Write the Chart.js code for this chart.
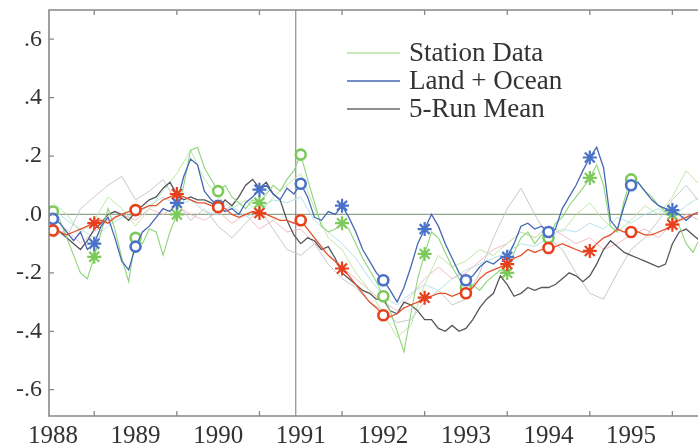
<!DOCTYPE html>
<html>
<head>
<meta charset="utf-8">
<script src="https://cdn.jsdelivr.net/npm/chart.js@4"></script>
<style>
  html, body { margin: 0; padding: 0; background: #fff; overflow: hidden; }
  #wrap { width: 698px; height: 448px; }
</style>
</head>
<body>
<div id="wrap"><canvas id="chart" width="698" height="448"></canvas></div>
<script>
const START_YEAR = 1988;

// monthly values, Jan 1988 onwards
const stationData = [
  0.01, -0.02, -0.08, -0.14, -0.20, -0.22, -0.145, -0.06, 0.02, -0.05, -0.15, -0.23,
  -0.08, -0.10, -0.05, -0.06, -0.14, -0.06, 0.00, 0.10, 0.22, 0.23, 0.16, 0.12,
  0.08, 0.10, 0.06, 0.04, 0.02, 0.05, 0.04, 0.07, 0.10, 0.08, 0.12, 0.15,
  0.205, 0.12, 0.04, -0.04, -0.06, -0.05, -0.03, -0.05, -0.10, -0.15, -0.19, -0.23,
  -0.28, -0.33, -0.40, -0.47, -0.34, -0.22, -0.135, -0.06, -0.08, -0.13, -0.18, -0.22,
  -0.25, -0.24, -0.26, -0.23, -0.21, -0.19, -0.20, -0.13, -0.08, -0.06, -0.10, -0.07,
  -0.08, -0.03, -0.01, 0.03, 0.06, 0.09, 0.125, 0.17, 0.10, -0.04, -0.06, 0.05,
  0.12, 0.11, 0.08, 0.06, 0.03, 0.01, 0.00, -0.04, -0.10, -0.13, -0.08
];
const landOcean = [
  -0.015, -0.03, -0.06, -0.09, -0.06, -0.12, -0.10, -0.04, -0.01, -0.08, -0.16, -0.19,
  -0.11, -0.06, -0.04, -0.01, 0.02, 0.01, 0.04, 0.13, 0.19, 0.17, 0.08, 0.05,
  0.03, 0.01, 0.02, 0.00, 0.04, 0.06, 0.085, 0.10, 0.07, 0.05, 0.09, 0.07,
  0.105, 0.06, -0.01, -0.02, 0.01, 0.00, 0.03, -0.01, -0.06, -0.12, -0.16, -0.20,
  -0.225, -0.26, -0.30, -0.25, -0.18, -0.10, -0.05, 0.00, -0.04, -0.10, -0.15, -0.20,
  -0.225, -0.21, -0.18, -0.16, -0.17, -0.15, -0.145, -0.10, -0.04, -0.03, -0.05, -0.04,
  -0.06, -0.05, 0.02, 0.06, 0.10, 0.15, 0.195, 0.23, 0.16, -0.02, -0.05, 0.03,
  0.10, 0.11, 0.08, 0.05, 0.03, 0.02, 0.015, 0.00, -0.02, 0.00, 0.01
];
const runMean = [
  -0.04, -0.06, -0.08, -0.10, -0.12, -0.09, -0.05, -0.03, 0.00, 0.01, 0.00, -0.02,
  0.01, 0.03, 0.05, 0.06, 0.09, 0.11, 0.07, 0.05, 0.06, 0.05, 0.05, 0.04,
  0.02, 0.05, 0.03, 0.06, 0.10, 0.12, 0.09, 0.11, 0.07, 0.05, -0.02, -0.07,
  -0.10, -0.08, -0.09, -0.12, -0.11, -0.15, -0.20, -0.22, -0.24, -0.26, -0.27, -0.29,
  -0.29, -0.33, -0.34, -0.30, -0.31, -0.33, -0.36, -0.36, -0.39, -0.40, -0.38, -0.40,
  -0.39, -0.36, -0.32, -0.29, -0.27, -0.21, -0.24, -0.28, -0.27, -0.25, -0.26, -0.25,
  -0.25, -0.24, -0.22, -0.20, -0.21, -0.23, -0.21, -0.17, -0.12, -0.09, -0.11, -0.13,
  -0.14, -0.15, -0.16, -0.17, -0.18, -0.17, -0.10, -0.06, -0.05, -0.07, -0.09
];
const modelMean = [
  -0.055, -0.06, -0.07, -0.06, -0.05, -0.04, -0.03, -0.02, -0.03, -0.01, 0.00, 0.01,
  0.015, 0.02, 0.03, 0.03, 0.05, 0.06, 0.07, 0.06, 0.05, 0.04, 0.04, 0.03,
  0.025, 0.02, 0.00, -0.01, 0.00, 0.01, 0.005, 0.00, -0.01, -0.02, -0.02, -0.03,
  -0.02, -0.05, -0.08, -0.11, -0.14, -0.16, -0.185, -0.21, -0.24, -0.27, -0.30, -0.32,
  -0.345, -0.35, -0.34, -0.32, -0.31, -0.30, -0.285, -0.28, -0.27, -0.27, -0.28, -0.27,
  -0.27, -0.25, -0.22, -0.20, -0.19, -0.18, -0.17, -0.15, -0.14, -0.12, -0.13, -0.12,
  -0.115, -0.11, -0.10, -0.11, -0.12, -0.13, -0.125, -0.10, -0.08, -0.07, -0.05, -0.06,
  -0.06, -0.06, -0.07, -0.07, -0.06, -0.05, -0.035, -0.02, -0.01, 0.00, 0.01
];

// individual runs, every second month
const runGray = [
  -0.03, -0.08, 0.02, 0.06, 0.10, 0.13, 0.05, 0.08, 0.12, 0.04, -0.02, 0.02,
  -0.04, -0.08, -0.03, 0.02, -0.05, -0.12, -0.14, -0.10, -0.17, -0.22, -0.25, -0.30,
  -0.33, -0.37, -0.36, -0.30, -0.26, -0.31, -0.29, -0.20, -0.08, 0.02, 0.09, 0.00,
  -0.08, -0.12, -0.20, -0.27, -0.29, -0.20, -0.12, -0.08, -0.02, 0.05, 0.10, 0.04
];
const runGreen = [
  0.04, 0.00, -0.06, -0.02, 0.06, 0.02, -0.04, 0.02, 0.08, 0.14, 0.22, 0.12,
  0.06, 0.02, 0.05, 0.00, 0.06, 0.10, 0.14, 0.02, -0.08, -0.12, -0.20, -0.26,
  -0.34, -0.42, -0.38, -0.24, -0.14, -0.18, -0.16, -0.12, -0.14, -0.10, -0.06, -0.08,
  -0.04, -0.06, 0.00, 0.04, -0.02, -0.06, -0.02, 0.03, 0.00, 0.06, 0.15, 0.10
];
const runPink = [
  -0.08, -0.05, -0.10, -0.06, -0.02, 0.00, -0.02, 0.02, 0.00, 0.03, 0.00, -0.02,
  0.01, -0.03, 0.00, -0.05, -0.02, -0.06, -0.05, -0.10, -0.14, -0.18, -0.22, -0.26,
  -0.30, -0.33, -0.28, -0.22, -0.18, -0.22, -0.20, -0.16, -0.12, -0.10, -0.06, -0.08,
  -0.04, -0.07, -0.10, -0.08, -0.12, -0.10, -0.07, -0.05, -0.08, -0.03, 0.00, -0.02
];
const runCyan = [
  0.02, -0.02, -0.05, -0.08, -0.04, -0.01, 0.00, 0.03, 0.06, 0.03, 0.05, 0.01,
  0.00, 0.03, -0.01, 0.02, 0.05, 0.04, 0.06, -0.02, -0.06, -0.10, -0.15, -0.22,
  -0.28, -0.31, -0.27, -0.24, -0.26, -0.22, -0.19, -0.17, -0.15, -0.13, -0.10, -0.11,
  -0.08, -0.05, -0.06, -0.03, -0.05, -0.01, -0.03, 0.00, 0.02, -0.01, 0.03, 0.06
];

const legendLabels = ['Station Data', 'Land + Ocean', '5-Run Mean'];
const legendColors = ['#8fd47a', '#4468b5', '#6a6a72'];
const yTickValues = [-0.6, -0.4, -0.2, 0, 0.2, 0.4, 0.6];
const yTickLabels = ['-.6', '-.4', '-.2', '.0', '.2', '.4', '.6'];
const xYearLabels = ['1988', '1989', '1990', '1991', '1992', '1993', '1994', '1995'];
const markerYear = 1990.94;

function toPoints(values, monthStep) {
  return values.map((v, i) => ({ x: START_YEAR + i * monthStep / 12, y: v }));
}

// circles on whole years, asterisks on half years
function markerRadius(ctx) {
  const i = ctx.dataIndex;
  if (i % 6 !== 0) return 0;
  return i % 12 === 0 ? 5 : 7;
}
function markerStyle(ctx) {
  return ctx.dataIndex % 12 === 0 ? 'circle' : 'star';
}

function markedLine(label, values, lineColor, markColor, width, order) {
  return {
    label: label,
    data: toPoints(values, 1),
    borderColor: lineColor,
    borderWidth: width,
    pointRadius: markerRadius,
    pointStyle: markerStyle,
    pointBorderColor: markColor,
    pointBackgroundColor: '#fff',
    pointBorderWidth: ctx => (ctx.dataIndex % 12 === 0 ? 2.6 : 2.2),
    tension: 0,
    order: order
  };
}

function faintLine(values, color) {
  return {
    data: toPoints(values, 2),
    borderColor: color,
    borderWidth: 1,
    pointRadius: 0,
    tension: 0,
    order: 10
  };
}

const frameAndLegend = {
  id: 'frameAndLegend',
  beforeDatasetsDraw(chart) {
    const { ctx, chartArea: a, scales: { x, y } } = chart;
    ctx.save();
    // zero line
    const y0 = y.getPixelForValue(0);
    ctx.strokeStyle = '#8fa58c';
    ctx.lineWidth = 1.3;
    ctx.beginPath();
    ctx.moveTo(a.left, y0);
    ctx.lineTo(a.right, y0);
    ctx.stroke();
    // vertical marker line
    const xe = x.getPixelForValue(markerYear);
    ctx.strokeStyle = '#777';
    ctx.lineWidth = 1;
    ctx.beginPath();
    ctx.moveTo(xe, a.top);
    ctx.lineTo(xe, a.bottom);
    ctx.stroke();
    ctx.restore();
  },
  afterDatasetsDraw(chart) {
    const { ctx, chartArea: a, scales: { x, y } } = chart;
    ctx.save();
    // frame: top, left, bottom (right side runs off the picture)
    ctx.strokeStyle = '#888';
    ctx.lineWidth = 1.6;
    ctx.beginPath();
    ctx.moveTo(a.right, a.top);
    ctx.lineTo(a.left, a.top);
    ctx.lineTo(a.left, a.bottom);
    ctx.lineTo(a.right, a.bottom);
    ctx.stroke();
    // inward tick marks
    ctx.lineWidth = 1.3;
    ctx.beginPath();
    x.ticks.forEach(t => {
      if (Number.isInteger(t.value)) return;
      const px = x.getPixelForValue(t.value);
      ctx.moveTo(px, a.top);
      ctx.lineTo(px, a.top + 5);
      ctx.moveTo(px, a.bottom);
      ctx.lineTo(px, a.bottom - 5);
    });
    yTickValues.forEach(v => {
      const py = y.getPixelForValue(v);
      ctx.moveTo(a.left, py);
      ctx.lineTo(a.left + 5, py);
    });
    ctx.stroke();
    // legend
    ctx.font = '27px "Liberation Serif"';
    ctx.textBaseline = 'middle';
    legendLabels.forEach((lab, i) => {
      const ly = a.top + 43 + i * 28;
      ctx.strokeStyle = legendColors[i];
      ctx.lineWidth = i === 0 ? 1.2 : 1.6;
      ctx.beginPath();
      ctx.moveTo(347, ly);
      ctx.lineTo(400, ly);
      ctx.stroke();
      ctx.fillStyle = '#333';
      ctx.fillText(lab, 409, ly + 1);
    });
    ctx.restore();
  }
};

const config = {
  type: 'line',
  data: {
    datasets: [
      markedLine('Model', modelMean, '#e4522c', '#e8401c', 1.3, 1),
      markedLine('Land + Ocean', landOcean, '#4468b5', '#4a72c8', 1.3, 2),
      markedLine('Station Data', stationData, '#8fd47a', '#7cc95c', 1.1, 3),
      { label: '5-Run Mean', data: toPoints(runMean, 1), borderColor: '#55555d', borderWidth: 1.3, pointRadius: 0, tension: 0, order: 4 },
      faintLine(runGray, '#c8c8c8'),
      faintLine(runGreen, '#bfe8a8'),
      faintLine(runPink, '#f2bcc4'),
      faintLine(runCyan, '#b4e2ec')
    ]
  },
  options: {
    responsive: false,
    animation: false,
    layout: { autoPadding: false, padding: { top: 10, right: 0, left: 0, bottom: 0 } },
    plugins: {
      legend: { display: false },
      tooltip: { enabled: false }
    },
    scales: {
      x: {
        type: 'linear',
        min: 1987.952,
        max: 1995.81,
        grid: { display: false, drawTicks: false },
        border: { display: false },
        afterBuildTicks: scale => {
          const t = [];
          for (let i = 0; i < xYearLabels.length; i++) {
            t.push({ value: START_YEAR + i });
            t.push({ value: START_YEAR + i + 0.5 });
          }
          scale.ticks = t;
        },
        afterFit: scale => {
          scale.height = 32;
          scale.paddingRight = 0;
          scale.paddingLeft = 0;
        },
        ticks: {
          autoSkip: false,
          maxRotation: 0,
          padding: 5,
          color: '#333',
          font: { family: 'Liberation Serif', size: 25 },
          callback: v => (Number.isInteger(v) ? xYearLabels[v - START_YEAR] : '')
        }
      },
      y: {
        min: -0.69,
        max: 0.70,
        grid: { display: false, drawTicks: false },
        border: { display: false },
        afterBuildTicks: scale => {
          scale.ticks = yTickValues.map(v => ({ value: v }));
        },
        afterFit: scale => {
          scale.width = 49;
          scale.paddingTop = 0;
          scale.paddingBottom = 0;
        },
        ticks: {
          padding: 7,
          color: '#333',
          font: { family: 'Liberation Serif', size: 24 },
          callback: v => yTickLabels[yTickValues.findIndex(t => Math.abs(t - v) < 1e-6)]
        }
      }
    }
  },
  plugins: [frameAndLegend]
};

new Chart(document.getElementById('chart').getContext('2d'), config);
</script>
</body>
</html>
